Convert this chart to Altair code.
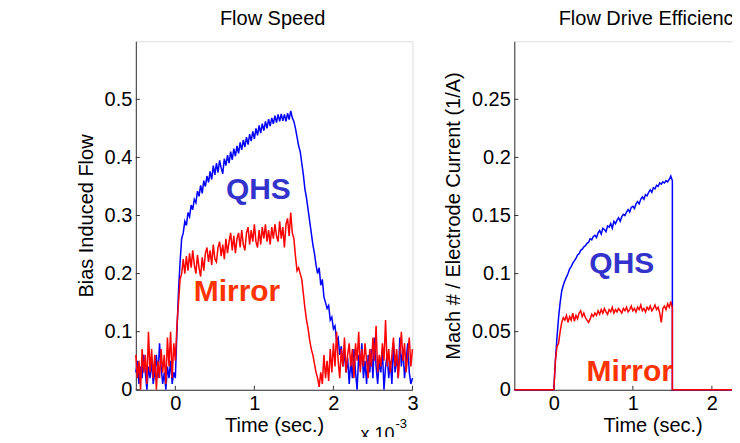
import altair as alt
import pandas as pd

# ---------------- data ----------------
# Left panel ("Flow Speed"), sampled every 0.02 (x 1e-3 s) from -0.5 to 3.0
left_t0 = -0.5
left_dt = 0.02
qhs_flow = [
    0.03, 0.05, 0.01, 0.04, 0.02, 0.06, 0.03, 0.00, 0.04, 0.02,
    0.05, 0.01, 0.03, 0.06, 0.02, 0.08, 0.04, 0.01, 0.03, 0.00,
    0.04, 0.02, 0.05, 0.01, 0.03,
    0.02, 0.10, 0.17, 0.22, 0.26,
    0.27, 0.29, 0.283, 0.305, 0.298, 0.318, 0.31, 0.328, 0.322, 0.342,
    0.333, 0.352, 0.338, 0.36, 0.35, 0.368, 0.357, 0.376, 0.362, 0.386,
    0.37, 0.39, 0.374, 0.395, 0.382, 0.372, 0.398, 0.386, 0.404, 0.39,
    0.41, 0.396, 0.415, 0.402, 0.42, 0.407, 0.426, 0.413, 0.43, 0.418,
    0.435, 0.422, 0.44, 0.428, 0.445, 0.432, 0.45, 0.438, 0.455, 0.442,
    0.458, 0.446, 0.462, 0.45, 0.466, 0.454, 0.468, 0.458, 0.472, 0.46,
    0.474, 0.462, 0.475, 0.463, 0.474, 0.462, 0.476, 0.465, 0.48, 0.468,
    0.462, 0.45, 0.435, 0.42, 0.41, 0.39, 0.37, 0.345, 0.33, 0.31,
    0.29, 0.27, 0.25, 0.235, 0.215, 0.20, 0.21, 0.18, 0.19, 0.16,
    0.15, 0.14, 0.145, 0.12, 0.125, 0.105, 0.11, 0.085, 0.09, 0.06,
    0.075, 0.04, 0.065, 0.03, 0.055, 0.01,
    0.05, 0.02, 0.07, 0.03, 0.00, 0.06, 0.04, 0.08, 0.02, 0.05,
    0.01, 0.06, 0.03, 0.07, 0.02, 0.09, 0.04, 0.01, 0.05, 0.03,
    0.07, 0.00, 0.04, 0.06, 0.02, 0.05, 0.01, 0.08, 0.03, 0.06,
    0.02, 0.09, 0.04, 0.07, 0.02, 0.05, 0.08, 0.03, 0.01, 0.02,
]
mirror_flow = [
    0.06, 0.02, 0.05, 0.00, 0.07, 0.03, 0.06, 0.01, 0.10, 0.03,
    0.07, 0.02, 0.06, 0.00, 0.05, 0.02, 0.07, 0.03, 0.06, 0.01,
    0.09, 0.04, 0.10, 0.02, 0.08,
    0.05, 0.11, 0.15, 0.19, 0.20, 0.225, 0.20, 0.23, 0.205, 0.235,
    0.21, 0.24, 0.215, 0.20, 0.232, 0.21, 0.195, 0.228, 0.205, 0.235,
    0.245, 0.22, 0.24, 0.215, 0.25, 0.225, 0.22, 0.245, 0.255, 0.23,
    0.25, 0.225, 0.26, 0.235, 0.255, 0.27, 0.24, 0.265, 0.235, 0.26,
    0.27, 0.245, 0.275, 0.25, 0.24, 0.27, 0.28, 0.25, 0.275, 0.255,
    0.285, 0.255, 0.245, 0.275, 0.25, 0.28, 0.26, 0.285, 0.255, 0.275,
    0.25, 0.28, 0.26, 0.285, 0.265, 0.255, 0.29, 0.26, 0.28, 0.245,
    0.285, 0.295, 0.265, 0.305, 0.27,
    0.26, 0.23, 0.205, 0.21, 0.20, 0.19, 0.165, 0.14, 0.12, 0.105,
    0.085, 0.07, 0.06, 0.045, 0.03, 0.02, 0.005, 0.03, 0.01, 0.06,
    0.02, 0.05, 0.015, 0.07, 0.03, 0.08, 0.04, 0.10, 0.05, 0.02,
    0.07, 0.04, 0.09, 0.03, 0.06, 0.08,
    0.04, 0.07, 0.02, 0.08, 0.05, 0.10, 0.03, 0.07, 0.04, 0.08,
    0.05, 0.02, 0.07, 0.04, 0.09, 0.05, 0.11, 0.03, 0.06, 0.04,
    0.08, 0.05, 0.12, 0.04, 0.07, 0.03, 0.06, 0.09, 0.04, 0.07,
    0.02, 0.06, 0.10, 0.05, 0.08, 0.03, 0.06, 0.09, 0.04, 0.07,
]

# Right panel ("Flow Drive Efficiency"), bias on from 0 to 1.5, sampled every 0.02
right_dt = 0.02
qhs_eff = [
    0.0, 0.025, 0.045, 0.062, 0.075, 0.085, 0.09, 0.094, 0.097, 0.10,
    0.104, 0.106, 0.109, 0.111, 0.113, 0.116, 0.117, 0.12, 0.121, 0.123,
    0.124, 0.126, 0.127, 0.13, 0.129, 0.132, 0.133, 0.131, 0.135, 0.137,
    0.134, 0.139, 0.138, 0.136, 0.141, 0.14, 0.143, 0.139, 0.145, 0.143,
    0.146, 0.148, 0.145, 0.149, 0.151, 0.15, 0.153, 0.155, 0.153, 0.157,
    0.158, 0.156, 0.16, 0.162, 0.16, 0.164, 0.166, 0.164, 0.168, 0.167,
    0.17, 0.172, 0.17, 0.174, 0.173, 0.176, 0.175, 0.178, 0.177, 0.179,
    0.178, 0.18, 0.179, 0.181, 0.184, 0.18,
]
mirror_eff = [
    0.0, 0.025, 0.037, 0.04, 0.05, 0.058, 0.062, 0.06, 0.064, 0.058,
    0.063, 0.06, 0.066, 0.059, 0.064, 0.061, 0.066, 0.068, 0.063, 0.066,
    0.062, 0.06, 0.058, 0.061, 0.065, 0.063, 0.066, 0.064, 0.068, 0.065,
    0.069, 0.066, 0.07, 0.067, 0.065, 0.069, 0.067, 0.071, 0.066, 0.069,
    0.067, 0.07, 0.068, 0.066, 0.07, 0.068, 0.071, 0.067, 0.069, 0.072,
    0.068, 0.07, 0.067, 0.071, 0.069, 0.073, 0.068, 0.07, 0.067, 0.071,
    0.069, 0.072, 0.068, 0.07, 0.073, 0.069, 0.071, 0.066, 0.058, 0.07,
    0.072, 0.069, 0.074, 0.071, 0.076, 0.07,
]
right_pre = [(-0.5, 0.0)]              # zero before the bias pulse
right_post = [(1.5, 0.0), (3.0, 0.0)]  # drop to zero when the bias ends

left_yticks = [0, 0.1, 0.2, 0.3, 0.4, 0.5]
right_yticks = [0, 0.05, 0.1, 0.15, 0.2, 0.25]
xticks = [0, 1, 2, 3]

labels_left = pd.DataFrame({"t": [1.05, 0.78], "v": [0.344, 0.169],
                            "txt": ["QHS", "Mirror"], "c": ["#3333CC", "#FF3300"]})
labels_right = pd.DataFrame({"t": [0.86, 0.96], "v": [0.108, 0.015],
                             "txt": ["QHS", "Mirror"], "c": ["#3333CC", "#FF3300"]})

# ---------------- tables ----------------
rows = []
for i, v in enumerate(qhs_flow):
    rows.append({"t": round(left_t0 + left_dt * i, 4), "v": v, "s": "QHS", "o": i})
for i, v in enumerate(mirror_flow):
    rows.append({"t": round(left_t0 + left_dt * i, 4), "v": v, "s": "Mirror", "o": i})
left_df = pd.DataFrame(rows)

rows = []
for name, vals in (("QHS", qhs_eff), ("Mirror", mirror_eff)):
    seq = list(right_pre) + [(round(right_dt * i, 4), v) for i, v in enumerate(vals)] + list(right_post)
    for k, (t, v) in enumerate(seq):
        rows.append({"t": t, "v": v, "s": name, "o": k})
right_df = pd.DataFrame(rows)

FONT = "Liberation Sans"
FS = 20
W, H = 277, 349
AX = "#333333"

color_scale = alt.Scale(domain=["QHS", "Mirror"], range=["#0000FF", "#FF0000"])
one = pd.DataFrame({"a": [0]})


def panel(df, labels, ydom, yticks, ytitle, title):
    x = alt.X("t:Q", scale=alt.Scale(domain=[-0.5, 3], nice=False, zero=False),
              axis=alt.Axis(values=xticks, title="Time (sec.)", format="d",
                            grid=False, tickSize=0, labelPadding=4, titlePadding=2,
                            domainColor=AX, labelFontSize=FS, titleFontSize=FS,
                            titleFontWeight="normal", labelColor="black", titleColor="black",
                            labelFont=FONT, titleFont=FONT, labelFlush=False, zindex=0))
    y = alt.Y("v:Q", scale=alt.Scale(domain=ydom, nice=False),
              axis=alt.Axis(values=yticks, title=ytitle, format="~g", grid=False, tickSize=0,
                            labelPadding=4, titlePadding=8, domainColor=AX,
                            labelFontSize=FS, titleFontSize=FS, titleFontWeight="normal",
                            labelColor="black", titleColor="black",
                            labelFont=FONT, titleFont=FONT, labelFlush=False, zindex=0))
    lines = alt.Chart(df).mark_line(strokeWidth=1.5).encode(
        x=x, y=y,
        color=alt.Color("s:N", scale=color_scale, legend=None),
        order="o:Q",
        detail="s:N",
    )
    qhs = lines.transform_filter(alt.datum.s == "QHS")
    mir = lines.transform_filter(alt.datum.s == "Mirror")
    txt = alt.Chart(labels).mark_text(fontSize=30, fontWeight="bold", font=FONT).encode(
        x="t:Q", y="v:Q", text="txt:N", color=alt.Color("c:N", scale=None))
    ytk = alt.Chart(pd.DataFrame({"v": yticks})).mark_rule(color=AX).encode(
        y="v:Q", x=alt.value(0), x2=alt.value(4))
    xtk = alt.Chart(pd.DataFrame({"t": xticks})).mark_rule(color=AX).encode(
        x="t:Q", y=alt.value(H), y2=alt.value(H - 4))
    ttl = alt.Chart(one).mark_text(text=title, fontSize=FS, font=FONT, color="black",
                                   baseline="alphabetic", align="center"
                                   ).encode(x=alt.value(137), y=alt.value(-16))
    mult = alt.Chart(one).mark_text(
        text="x 10", fontSize=18, font=FONT, align="left", baseline="alphabetic",
        color="black").encode(x=alt.value(225), y=alt.value(H + 50))
    expo = alt.Chart(one).mark_text(
        text="-3", fontSize=13, font=FONT, align="left", baseline="alphabetic",
        color="black").encode(x=alt.value(260), y=alt.value(H + 38))
    return alt.layer(ytk, xtk, qhs, txt, mir, ttl, mult, expo).properties(width=W, height=H)


left = panel(left_df, labels_left, [0, 0.6], left_yticks, "Bias Induced Flow", "Flow Speed")
right = panel(right_df, labels_right, [0, 0.3], right_yticks,
              "Mach # / Electrode Current (1/A)", "Flow Drive Efficiency")

# negative right/bottom padding crops the figure like the reference's edges
chart = alt.hconcat(left, right, spacing=102, bounds="flush").properties(
    padding={"left": 67, "top": 0, "right": -66, "bottom": -8}
).configure_view(stroke=None).configure(background="white")

chart.save("out.html", embed_options={"renderer": "svg", "actions": False})
